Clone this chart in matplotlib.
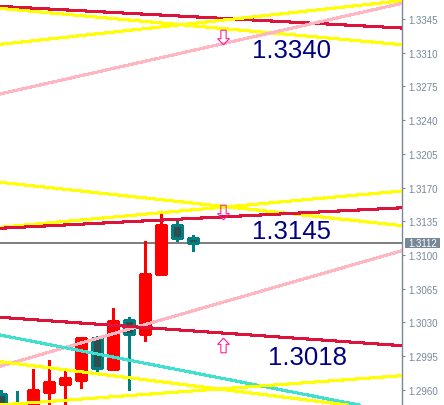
import matplotlib
matplotlib.use("Agg")
import matplotlib.pyplot as plt
import matplotlib.transforms as mtransforms
from matplotlib.patches import Rectangle
from matplotlib.path import Path

# ---- candles (bar index, OHLC) ----
opens  = [1.2956, 1.2942, 1.2940, 1.2958, 1.2966, 1.2970, 1.3014, 1.2982, 1.3032, 1.3018, 1.3080, 1.3131, 1.3118]
highs  = [1.2960, 1.2959, 1.2982, 1.2991, 1.2981, 1.3014, 1.3016, 1.3045, 1.3036, 1.3114, 1.3143, 1.3137, 1.3121]
lows   = [1.2930, 1.2928, 1.2932, 1.2935, 1.2938, 1.2962, 1.2977, 1.2980, 1.2960, 1.3011, 1.3079, 1.3114, 1.3104]
closes = [1.2940, 1.2938, 1.2960, 1.2968, 1.2972, 1.3014, 1.2983, 1.3031, 1.3018, 1.3080, 1.3131, 1.3118, 1.3112]

current_price = 1.3112

# ---- trend lines: prices at bar 0 and bar 25 ----
trend_x = [0, 25]
red_top      = [1.33581, 1.33357]
yellow_a     = [1.33560, 1.33184]
yellow_b     = [1.33188, 1.33639]
pink_top     = [1.32674, 1.33611]
yellow_c     = [1.31753, 1.31305]
yellow_d     = [1.31288, 1.31663]
red_mid      = [1.31277, 1.31489]
pink_low     = [1.29846, 1.31041]
red_low      = [1.30351, 1.30058]
turquoise    = [1.30166, 1.29356]
yellow_e     = [1.29890, 1.29371]
yellow_f     = [1.29442, 1.29745]

# ---- level labels and arrows ----
level_texts = ["1.3340", "1.3145", "1.3018"]
level_text_x = [15.69, 15.69, 16.67]
level_text_y = [1.33055, 1.31176, 1.29867]
arrow_x = [13.9, 13.9, 13.9]
arrow_y = [1.33268, 1.31442, 1.30065]
arrow_dir = ["down", "down", "up"]

tick_values = [1.2960, 1.2995, 1.3030, 1.3065, 1.3100, 1.3135, 1.3170,
               1.3205, 1.3240, 1.3275, 1.3310, 1.3345]

AXIS_GREY = "#778899"

fig = plt.figure(figsize=(4.44, 4.06), dpi=100)
fig.patch.set_facecolor("white")
ax = fig.add_axes([0, 0, 402 / 444, 1])
ax.set_facecolor("white")
ax.set_xlim(-0.0625, 25.0625)
ax.set_ylim(1.29441, 1.33658)

# current price line
ax.axhline(current_price, color="#808080", lw=1.4, zorder=1, antialiased=False)

# candles
body_w = 0.65
for i, (o, h, l, c) in enumerate(zip(opens, highs, lows, closes)):
    bull = c >= o
    wick_col = "#FF0000" if bull else "#008080"
    face = "#FF0000" if bull else "#2F4F4F"
    edge = "#FF0000" if bull else "#008080"
    ax.vlines(i, l, h, color=wick_col, lw=0.9, zorder=2, antialiased=False)
    bottom = min(o, c)
    height = max(abs(c - o), 0.00002)
    ax.add_patch(Rectangle((i - body_w / 2, bottom), body_w, height,
                           facecolor=face, edgecolor=edge, lw=0.9,
                           zorder=3, antialiased=False))

# trend lines
lines = [
    (red_top, "#DC143C"), (yellow_a, "#FFFF00"), (yellow_b, "#FFFF00"),
    (pink_top, "#FFB6C1"), (yellow_c, "#FFFF00"), (yellow_d, "#FFFF00"),
    (red_mid, "#DC143C"), (pink_low, "#FFB6C1"), (red_low, "#DC143C"),
    (turquoise, "#40E0D0"), (yellow_e, "#FFFF00"), (yellow_f, "#FFFF00"),
]
for ys, col in lines:
    ax.axline((trend_x[0], ys[0]), (trend_x[1], ys[1]), color=col, lw=1.5,
              zorder=4, antialiased=False)

# hollow arrows
down_verts = [(-0.18, 0.5), (0.18, 0.5), (0.18, -0.08), (0.4, -0.08),
              (0.0, -0.5), (-0.4, -0.08), (-0.18, -0.08), (-0.18, 0.5)]
down_path = Path(down_verts, closed=True)
up_path = Path([(x, -y) for x, y in down_verts], closed=True)
for x, y, d in zip(arrow_x, arrow_y, arrow_dir):
    ax.plot([x], [y], marker=down_path if d == "down" else up_path,
            markersize=10.5, markerfacecolor="none", markeredgecolor="#FF1493",
            markeredgewidth=0.75, linestyle="none", zorder=5)

# level labels
for t, x, y in zip(level_texts, level_text_x, level_text_y):
    ax.text(x, y, t, color="#000080", fontsize=18.5, family="Liberation Sans",
            ha="left", va="baseline", zorder=6)

# price axis on the right
for s in ["left", "top", "bottom"]:
    ax.spines[s].set_visible(False)
ax.spines["right"].set_color(AXIS_GREY)
ax.spines["right"].set_linewidth(1.0)
ax.set_xticks([])
ax.yaxis.tick_right()
ax.set_yticks(tick_values)
ax.set_yticklabels([f"{v:.4f}" for v in tick_values])
ax.tick_params(axis="y", direction="out", length=2.2, width=0.8, color=AXIS_GREY,
               labelcolor=AXIS_GREY, labelsize=7, pad=2.5)
for lab in ax.get_yticklabels():
    lab.set_family("Liberation Sans")

# current price tag
trans = mtransforms.blended_transform_factory(ax.transAxes, ax.transData)
half_h = 5 * (ax.get_ylim()[1] - ax.get_ylim()[0]) / 406
ax.add_patch(Rectangle((405 / 402, current_price - half_h), 35 / 402, 2 * half_h,
                       transform=trans, facecolor=AXIS_GREY, edgecolor="none",
                       clip_on=False, zorder=7))
ax.text(422.5 / 402, current_price, f"{current_price:.4f}", transform=trans,
        ha="center", va="center", color="white", fontsize=7,
        family="Liberation Sans", zorder=8, clip_on=False)

fig.savefig("out.png", dpi=100, facecolor="white")
